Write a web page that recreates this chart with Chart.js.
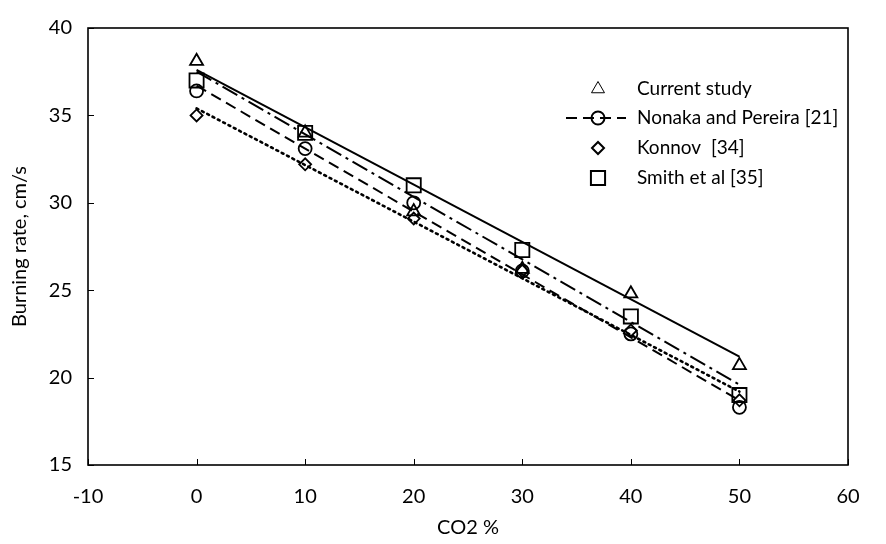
<!DOCTYPE html>
<html>
<head>
<meta charset="utf-8">
<script src="https://cdn.jsdelivr.net/npm/chart.js@4.4.0/dist/chart.umd.min.js"></script>
<style>
  html, body { margin: 0; padding: 0; background: #fff; }
</style>
</head>
<body>
<canvas id="chart" width="886" height="544"></canvas>
<script>
// data
const co2 = [0, 10, 20, 30, 40, 50];
const currentStudy = [38.1, 34.0, 29.5, 26.2, 24.8, 20.7];
const nonakaPereira = [36.4, 33.1, 30.0, 26.1, 22.5, 18.3];
const konnov = [35.0, 32.2, 29.1, 26.1, 22.7, 18.7];
const smithEtAl = [37.0, 34.0, 31.0, 27.3, 23.5, 19.0];

// trend line ends (x = 0 and x = 50)
const fitX = [0, 50];
const currentFit = [37.6, 21.2];
const nonakaFit = [36.7, 18.7];
const konnovFit = [35.4, 19.2];
const smithFit = [37.5, 19.6];

const seriesNames = ["Current study", "Nonaka and Pereira [21]", "Konnov  [34]", "Smith et al [35]"];
const xRange = [-10, 60];
const yRange = [15, 40];
const xStep = 10;
const yStep = 5;

const FONT = "Lato, 'Noto Sans', sans-serif";

function pts(xs, ys) {
  return xs.map((x, i) => ({ x: x, y: ys[i] }));
}

const markerStyles = [
  { pointStyle: "triangle", radius: 7.5 },
  { pointStyle: "circle", radius: 6.5 },
  { pointStyle: "rectRot", radius: 6 },
  { pointStyle: "rect", radius: 10 }
];
const lineDashes = [[], [11, 6], [2, 4], [17, 5, 3, 5]];

function markerSet(label, values, i) {
  return {
    label: label,
    data: pts(co2, values),
    showLine: false,
    pointStyle: markerStyles[i].pointStyle,
    pointRadius: markerStyles[i].radius,
    pointHoverRadius: markerStyles[i].radius,
    pointBorderWidth: 1.8,
    borderColor: "#000",
    backgroundColor: "rgba(0,0,0,0)",
    order: 0
  };
}

function fitSet(values, i) {
  return {
    label: seriesNames[i] + " fit",
    data: pts(fitX, values),
    showLine: true,
    pointRadius: 0,
    borderColor: "#000",
    borderWidth: i === 2 ? 2.6 : 2,
    borderDash: lineDashes[i],
    borderCapStyle: i === 2 ? "round" : "butt",
    backgroundColor: "rgba(0,0,0,0)",
    order: 1
  };
}

// plot frame and inward tick marks
const framePlugin = {
  id: "frame",
  beforeDatasetsDraw(chart) {
    const { ctx, chartArea: a, scales } = chart;
    ctx.save();
    ctx.strokeStyle = "#000";
    ctx.lineWidth = 1.6;
    ctx.strokeRect(a.left, a.top, a.right - a.left, a.bottom - a.top);
    ctx.lineWidth = 1;
    ctx.beginPath();
    scales.x.ticks.forEach((t, i) => {
      const px = Math.round(scales.x.getPixelForTick(i)) + 0.5;
      ctx.moveTo(px, a.bottom);
      ctx.lineTo(px, a.bottom - 6);
    });
    scales.y.ticks.forEach((t, i) => {
      const py = Math.round(scales.y.getPixelForTick(i)) + 0.5;
      ctx.moveTo(a.left, py);
      ctx.lineTo(a.left + 6, py);
    });
    ctx.stroke();
    ctx.restore();
  }
};

// legend inside the plot, top right
const legendPlugin = {
  id: "insideLegend",
  afterDraw(chart) {
    const { ctx, chartArea: a } = chart;
    const markX = a.left + 510;
    const textX = a.left + 549;
    const rowY = [a.top + 61, a.top + 90, a.top + 120, a.top + 150];
    ctx.save();
    seriesNames.forEach((name, i) => {
      const y = rowY[i];
      ctx.strokeStyle = "#000";
      if (i === 1) {
        ctx.lineWidth = 2;
        ctx.setLineDash(lineDashes[1]);
        ctx.beginPath();
        ctx.moveTo(markX - 32, y);
        ctx.lineTo(markX + 28, y);
        ctx.stroke();
        ctx.setLineDash([]);
      }
      ctx.fillStyle = "rgba(0,0,0,0)";
      Chart.helpers.drawPoint(ctx, {
        pointStyle: markerStyles[i].pointStyle,
        radius: markerStyles[i].radius,
        borderWidth: 1.8,
        rotation: 0
      }, markX, y);
      ctx.fillStyle = "#000";
      ctx.font = "19px " + FONT;
      ctx.textAlign = "left";
      ctx.textBaseline = "middle";
      ctx.fillText(name, textX, y);
    });
    ctx.restore();
  }
};

new Chart(document.getElementById("chart"), {
  type: "scatter",
  data: {
    datasets: [
      markerSet(seriesNames[0], currentStudy, 0),
      markerSet(seriesNames[1], nonakaPereira, 1),
      markerSet(seriesNames[2], konnov, 2),
      markerSet(seriesNames[3], smithEtAl, 3),
      fitSet(currentFit, 0),
      fitSet(nonakaFit, 1),
      fitSet(konnovFit, 2),
      fitSet(smithFit, 3)
    ]
  },
  options: {
    responsive: false,
    animation: false,
    events: [],
    layout: { padding: { top: 18, right: 38, left: 0, bottom: 0 } },
    plugins: {
      legend: { display: false },
      tooltip: { enabled: false }
    },
    scales: {
      x: {
        type: "linear",
        min: xRange[0],
        max: xRange[1],
        ticks: { stepSize: xStep, padding: 20, color: "#000", font: { family: FONT, size: 20 } },
        grid: { display: false, drawTicks: false },
        border: { display: false },
        title: { display: true, text: "CO2 %", color: "#000", padding: { top: 0, bottom: 4 }, font: { family: FONT, size: 20 } },
        afterFit(scale) { scale.height = 79; }
      },
      y: {
        type: "linear",
        min: yRange[0],
        max: yRange[1],
        ticks: { stepSize: yStep, padding: 16, color: "#000", font: { family: FONT, size: 20 } },
        grid: { display: false, drawTicks: false },
        border: { display: false },
        title: { display: true, text: "Burning rate, cm/s", color: "#000", padding: { top: 8, bottom: 0 }, font: { family: FONT, size: 20 } },
        afterFit(scale) { scale.width = 88; }
      }
    }
  },
  plugins: [framePlugin, legendPlugin]
});
</script>
</body>
</html>
